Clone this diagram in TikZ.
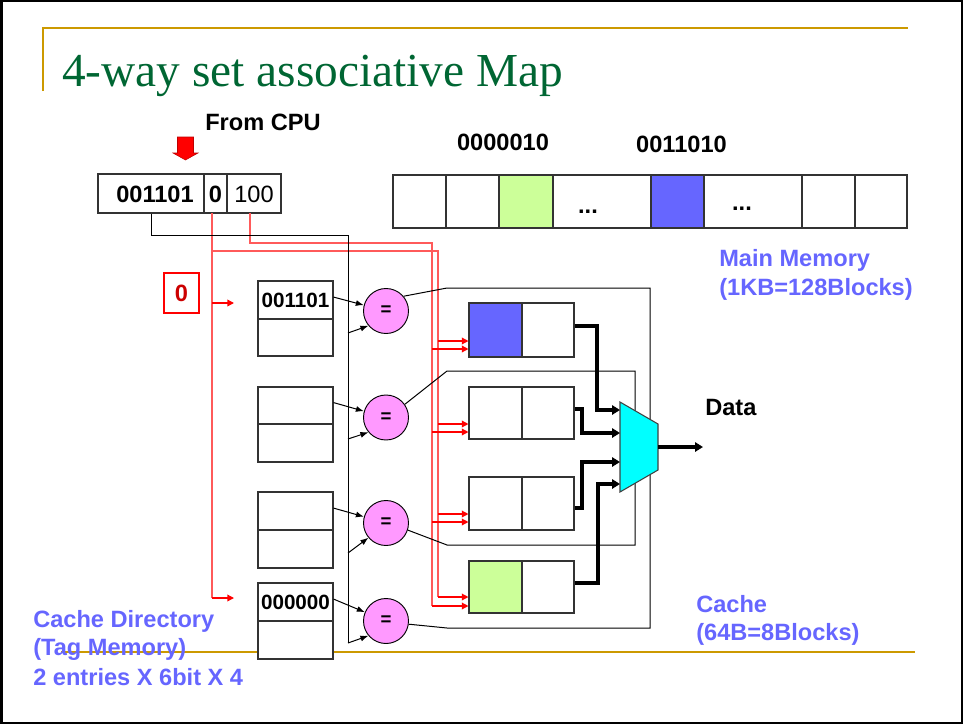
\documentclass[tikz,border=0pt]{standalone}
\usepackage{fontspec}
\setmainfont{Liberation Sans}
\newfontfamily\titlefont{Liberation Serif}
\usetikzlibrary{arrows.meta,fit}
\definecolor{goldc}{RGB}{204,153,0}
\definecolor{titlegreen}{RGB}{0,102,51}
\definecolor{lblue}{RGB}{102,102,255}
\definecolor{blockblue}{RGB}{102,102,255}
\definecolor{blockgreen}{RGB}{204,255,153}
\definecolor{pinkc}{RGB}{255,153,255}
\definecolor{muxc}{RGB}{0,255,255}
\definecolor{wirec}{RGB}{255,90,90}
\definecolor{darkred}{RGB}{204,0,0}
\begin{document}
\begin{tikzpicture}[x=0.75pt,y=-0.75pt,
  cell/.style={draw=black!80, line width=0.8pt, inner sep=0pt, fill=white},
  txt/.style={font=\fontsize{17.7}{21}\selectfont\bfseries, inner sep=0pt},
  dtxt/.style={font=\fontsize{15.5}{18}\selectfont\bfseries, inner sep=0pt},
  btxt/.style={txt, text=lblue, anchor=base west},
  cmp/.style={circle, draw=black, line width=0.7pt, fill=pinkc, minimum size=33.75pt, inner sep=0pt, font=\fontsize{14}{14}\selectfont\bfseries},
  wire/.style={draw=wirec, line width=1.1pt},
  redarr/.style={draw=red, line width=1pt, -{Triangle[length=5pt,width=5pt]}},
  thinline/.style={draw=black, line width=0.75pt},
  thinarr/.style={draw=black, line width=0.75pt, -{Latex[length=6pt,width=4.5pt]}},
  datarr/.style={draw=black, line width=2.8pt, -{Triangle[length=6pt,width=7pt]}},
]
\useasboundingbox (0,0) rectangle (963,724);
\draw[line width=1.5pt] (1.5,1.5) rectangle (961.5,722.5);
% gold rules
\draw[goldc, line width=1.6pt] (43,91) -- (43,28) -- (908,28);
\draw[goldc, line width=1.6pt] (61,652) -- (915,652);
% title
\node[anchor=base west, inner sep=0pt, font=\titlefont\fontsize{35.5}{40}\selectfont, text=titlegreen] (title) at (62,86) {4-way set associative Map};

% From CPU
\node[txt, anchor=base west] (cpu) at (205,130) {From CPU};
\draw[fill=red, draw=red!75!black, line width=0.4pt] (177.5,137) -- (193.5,137) -- (193.5,153) -- (198,153) -- (185.5,160) -- (173,153) -- (177.5,153) -- cycle;

% address register
\node[cell, fit={(98,174)(204,213)}] (atag) {};
\node[cell, fit={(204,174)(227,213)}] (aidx) {};
\node[cell, fit={(227,174)(281,213)}] (aoff) {};
\node[txt, anchor=base] (atagt) at (155,202) {001101};
\node[txt, anchor=base] (aidxt) at (215.5,202) {0};
\node[txt, anchor=base, font=\fontsize{17.7}{21}\selectfont] (aofft) at (254,202) {100};

% main memory
\node[cell, fit={(393,175)(446,228)}] (m1) {};
\node[cell, fit={(446,175)(499,228)}] (m2) {};
\node[cell, fit={(499,175)(553,228)}, fill=blockgreen] (m3) {};
\node[cell, fit={(553,175)(651,228)}] (m4) {};
\node[cell, fit={(651,175)(704,228)}, fill=blockblue] (m5) {};
\node[cell, fit={(704,175)(802,228)}] (m6) {};
\node[cell, fit={(802,175)(855,228)}] (m7) {};
\node[cell, fit={(855,175)(907,228)}] (m8) {};
\node[txt, anchor=base] (dots1) at (588,213.5) {...};
\node[txt, anchor=base] (dots2) at (742,210.5) {...};
\node[txt, anchor=base] (lab1) at (503,150) {0000010};
\node[txt, anchor=base] (lab2) at (681.5,152) {0011010};
\node[btxt] (mm1) at (719,266) {Main Memory};
\node[btxt] (mm2) at (719,295) {(1KB=128Blocks)};

% red index / offset wires
\draw[wire] (212,213) -- (212,598);
\draw[wire] (250,213) -- (250,243) -- (432,243) -- (432,606);
\draw[wire] (212,251) -- (438,251) -- (438,597);
\draw[redarr] (212,303) -- (234,303);
\draw[redarr] (212,598) -- (234,598);
\node[draw=red, line width=1pt, fit={(164,273)(199,313)}, inner sep=0pt] (zbox) {};
\node[txt, text=darkred] (zero) at (zbox.center) {0};

% tag bus
\coordinate (busTop) at (348,235);
\coordinate (busBot) at (348,643);
\draw[thinline] (atag.south) |- (busTop) -- (busBot);

% comparator enable loops
\node[cmp] (q1) at (386,311) {=};
\node[cmp] (q2) at (386,417.5) {=};
\node[cmp] (q3) at (386,523) {=};
\node[cmp] (q4) at (386,621) {=};
\draw[thinline] (q1.40) -- (447,288) -- (650,288) -- (650,628) -- (447,628) -- (q4.-8);
\draw[thinline] (q2.35) -- (447,371) -- (635,371) -- (635,545) -- (447,545) -- (q3.-18);

% tag directory
\node[cell, fit={(258,281)(333,319)}] (d1a) {};
\node[cell, fit={(258,319)(333,356)}] (d1b) {};
\node[cell, fit={(258,387)(333,424)}] (d2a) {};
\node[cell, fit={(258,424)(333,462)}] (d2b) {};
\node[cell, fit={(258,492)(333,530)}] (d3a) {};
\node[cell, fit={(258,530)(333,568)}] (d3b) {};
\node[cell, fit={(258,583)(333,621)}] (d4a) {};
\node[cell, fit={(258,621)(333,659)}] (d4b) {};
\node[dtxt, anchor=base] (d1t) at (295.5,307.5) {001101};
\node[dtxt, anchor=base] (d4t) at (295.5,609.5) {000000};

% comparator inputs
\draw[thinarr] ([yshift=2.2pt]d1a.east) -- (q1);
\draw[thinarr] ([yshift=2.2pt]d2a.east) -- (q2);
\draw[thinarr] ([yshift=2.2pt]d3a.east) -- (q3);
\draw[thinarr] ([yshift=2.2pt]d4a.east) -- (q4);
\draw[thinarr] (348,333) -- (q1.-140);
\draw[thinarr] (348,439) -- (q2.-140);
\draw[thinarr] (348,553) -- (q3.-140);
\draw[thinarr] (348,643) -- (q4.-140);

% cache blocks
\node[cell, fit={(469,303)(522,357)}, fill=blockblue] (c1L) {};
\node[cell, fit={(522,303)(574,357)}] (c1R) {};
\node[cell, fit={(469,387)(522,439)}] (c2L) {};
\node[cell, fit={(522,387)(574,439)}] (c2R) {};
\node[cell, fit={(469,477)(522,530)}] (c3L) {};
\node[cell, fit={(522,477)(574,530)}] (c3R) {};
\node[cell, fit={(469,561)(522,613)}, fill=blockgreen] (c4L) {};
\node[cell, fit={(522,561)(574,613)}] (c4R) {};

% red arrows into cache blocks
\draw[redarr] (438,341) -- (c1L.west |- 0,341);
\draw[redarr] (432,349) -- (c1L.west |- 0,349);
\draw[redarr] (438,424) -- (c2L.west |- 0,424);
\draw[redarr] (432,432) -- (c2L.west |- 0,432);
\draw[redarr] (438,514) -- (c3L.west |- 0,514);
\draw[redarr] (432,522) -- (c3L.west |- 0,522);
\draw[redarr] (438,597) -- (c4L.west |- 0,597);
\draw[redarr] (432,606) -- (c4L.west |- 0,606);

% multiplexer
\coordinate (muxA) at (620,402);
\coordinate (muxB) at (658,424);
\coordinate (muxC) at (658,470);
\coordinate (muxD) at (620,492);
\coordinate (muxOut) at (658,447);
\coordinate (dataEnd) at (703,447);
\draw[fill=muxc, draw=black!75, line width=0.8pt] (muxA) -- (muxB) -- (muxC) -- (muxD) -- cycle;

% data paths
\draw[datarr] (c1R.east |- 0,326) -- (597,326) -- (597,410) -- (620,410);
\draw[datarr] (c2R.east |- 0,409) -- (582,409) -- (582,433) -- (620,433);
\draw[datarr] (c3R.east |- 0,508) -- (582,508) -- (582,462) -- (620,462);
\draw[datarr] (c4R.east |- 0,583) -- (598,583) -- (598,484) -- (620,484);
\draw[datarr] (muxOut) -- (dataEnd);
\node[txt, anchor=base west] (data) at (705,415) {Data};

% labels
\node[btxt] (cl1) at (696,612) {Cache};
\node[btxt] (cl2) at (696,640) {(64B=8Blocks)};
\node[btxt] (dl1) at (33,627) {Cache Directory};
\node[btxt] (dl2) at (33,655) {(Tag Memory)};
\node[btxt] (dl3) at (33,685) {2 entries X 6bit X 4};
\end{tikzpicture}
\end{document}
